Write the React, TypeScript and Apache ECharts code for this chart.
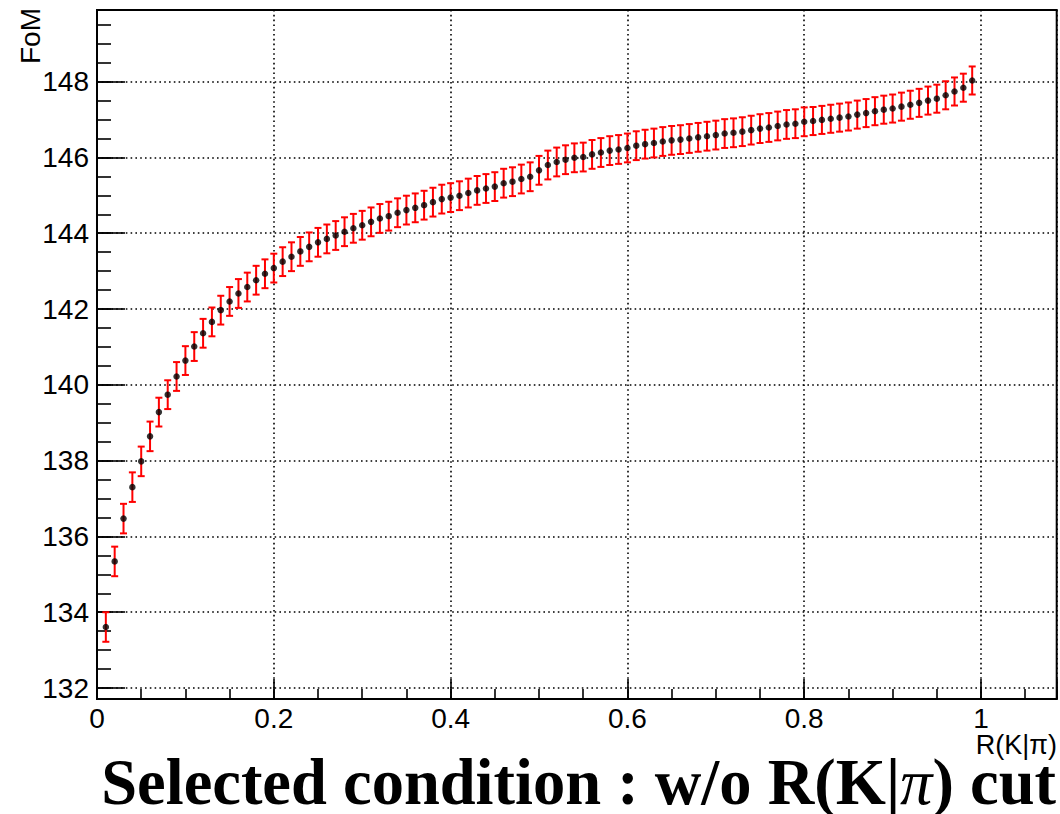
import React, { useEffect, useRef } from "react";
import * as echarts from "echarts";

// R(K|pi) cut values (bin centres)
const rCut: number[] = [
  0.01, 0.02, 0.03, 0.04, 0.05, 0.06, 0.07, 0.08, 0.09, 0.1,
  0.11, 0.12, 0.13, 0.14, 0.15, 0.16, 0.17, 0.18, 0.19, 0.2,
  0.21, 0.22, 0.23, 0.24, 0.25, 0.26, 0.27, 0.28, 0.29, 0.3,
  0.31, 0.32, 0.33, 0.34, 0.35, 0.36, 0.37, 0.38, 0.39, 0.4,
  0.41, 0.42, 0.43, 0.44, 0.45, 0.46, 0.47, 0.48, 0.49, 0.5,
  0.51, 0.52, 0.53, 0.54, 0.55, 0.56, 0.57, 0.58, 0.59, 0.6,
  0.61, 0.62, 0.63, 0.64, 0.65, 0.66, 0.67, 0.68, 0.69, 0.7,
  0.71, 0.72, 0.73, 0.74, 0.75, 0.76, 0.77, 0.78, 0.79, 0.8,
  0.81, 0.82, 0.83, 0.84, 0.85, 0.86, 0.87, 0.88, 0.89, 0.9,
  0.91, 0.92, 0.93, 0.94, 0.95, 0.96, 0.97, 0.98, 0.99,
];

// Figure of merit
const fom: number[] = [
  133.61, 135.34, 136.47, 137.3, 137.98, 138.64, 139.28, 139.74, 140.22, 140.64,
  141.01, 141.36, 141.66, 141.97, 142.2, 142.41, 142.58, 142.76, 142.93, 143.08,
  143.25, 143.38, 143.52, 143.64, 143.76, 143.85, 143.94, 144.04, 144.13, 144.21,
  144.3, 144.39, 144.45, 144.54, 144.61, 144.67, 144.74, 144.82, 144.9, 144.94,
  144.99, 145.06, 145.13, 145.18, 145.23, 145.32, 145.36, 145.43, 145.49, 145.66,
  145.8, 145.88, 145.94, 145.99, 146.01, 146.08, 146.13, 146.18, 146.21, 146.25,
  146.31, 146.35, 146.38, 146.42, 146.45, 146.47, 146.5, 146.53, 146.56, 146.59,
  146.63, 146.65, 146.68, 146.72, 146.76, 146.79, 146.83, 146.87, 146.89, 146.94,
  146.96, 146.99, 147.02, 147.05, 147.08, 147.13, 147.17, 147.22, 147.26, 147.29,
  147.34, 147.39, 147.44, 147.5, 147.55, 147.64, 147.74, 147.84, 148.03,
];

// Error (half length of error bar)
const fomErr: number[] = [
  0.39, 0.39, 0.39, 0.39, 0.39, 0.39, 0.38, 0.38, 0.38, 0.38,
  0.38, 0.38, 0.38, 0.38, 0.38, 0.38, 0.38, 0.38, 0.38, 0.38,
  0.38, 0.38, 0.38, 0.38, 0.38, 0.38, 0.38, 0.38, 0.38, 0.38,
  0.38, 0.38, 0.38, 0.38, 0.38, 0.38, 0.38, 0.38, 0.38, 0.38,
  0.38, 0.38, 0.38, 0.38, 0.38, 0.38, 0.38, 0.38, 0.38, 0.38,
  0.38, 0.38, 0.38, 0.38, 0.38, 0.38, 0.38, 0.38, 0.38, 0.38,
  0.38, 0.38, 0.38, 0.38, 0.38, 0.38, 0.38, 0.38, 0.38, 0.38,
  0.38, 0.38, 0.38, 0.38, 0.38, 0.38, 0.38, 0.38, 0.38, 0.38,
  0.37, 0.37, 0.37, 0.37, 0.37, 0.37, 0.37, 0.37, 0.37, 0.37,
  0.37, 0.37, 0.37, 0.37, 0.37, 0.37, 0.37, 0.37, 0.37,
];

const xMin = 0;
const xMax = 1.0856;
const yMin = 131.71;
const yMax = 149.89;

const xTitle = "R(K|π)";
const yTitle = "FoM";

const FONT = '"Liberation Sans", Arial, Helvetica, sans-serif';
const SERIF = '"Liberation Serif", "Times New Roman", serif';

export default function App() {
  const ref = useRef<HTMLDivElement>(null);

  useEffect(() => {
    if (!ref.current) return;
    const chart = echarts.init(ref.current, null, { renderer: "svg" });

    const pts = rCut.map((x, i) => [x, fom[i]]);
    const errData = rCut.map((x, i) => [x, fom[i], fomErr[i]]);

    const near = (v: number, step: number) =>
      Math.abs(v / step - Math.round(v / step)) < 1e-6;

    const dotted = { color: "#000", width: 1.6, type: [1.6, 3.2] as any };

    const option: any = {
      animation: false,
      backgroundColor: "#fff",
      grid: {
        left: 97,
        right: 3.3,
        top: 10,
        bottom: 115,
        show: true,
        borderColor: "#000",
        borderWidth: 2,
        backgroundColor: "transparent",
      },
      xAxis: [
        {
          type: "value",
          min: xMin,
          max: xMax,
          splitNumber: 5,
          position: "bottom",
          axisLine: { show: true, onZero: false, lineStyle: { color: "#000", width: 2 } },
          axisTick: { show: true, inside: true, length: 20, lineStyle: { color: "#000", width: 1.6 } },
          axisLabel: {
            show: true,
            color: "#000",
            fontFamily: FONT,
            fontSize: 28,
            margin: 6,
            lineHeight: 26,
            formatter: (v: number) => (v <= 1.0001 && near(v, 0.2) ? String(Math.round(v * 10) / 10) : ""),
          },
          splitLine: { show: true, lineStyle: dotted },
        },
        {
          type: "value",
          min: xMin,
          max: xMax,
          splitNumber: 20,
          position: "bottom",
          axisLine: { show: false, onZero: false },
          axisTick: { show: true, inside: true, length: 10, lineStyle: { color: "#000", width: 1.6 } },
          axisLabel: { show: false },
          splitLine: { show: false },
        },
      ],
      yAxis: [
        {
          type: "value",
          min: yMin,
          max: yMax,
          splitNumber: 9,
          position: "left",
          axisLine: { show: true, onZero: false, lineStyle: { color: "#000", width: 2 } },
          axisTick: { show: true, inside: true, length: 28, lineStyle: { color: "#000", width: 1.6 } },
          axisLabel: {
            show: true,
            color: "#000",
            fontFamily: FONT,
            fontSize: 28,
            margin: 8,
            formatter: (v: number) =>
              near(v, 2) && v > yMin && v < yMax ? String(Math.round(v)) : "",
          },
          splitLine: { show: true, lineStyle: dotted },
        },
        {
          type: "value",
          min: yMin,
          max: yMax,
          splitNumber: 36,
          position: "left",
          axisLine: { show: false, onZero: false },
          axisTick: { show: true, inside: true, length: 14, lineStyle: { color: "#000", width: 1.6 } },
          axisLabel: { show: false },
          splitLine: { show: false },
        },
      ],
      series: [
        {
          type: "custom",
          name: "err",
          xAxisIndex: 0,
          yAxisIndex: 0,
          data: errData,
          z: 2,
          renderItem: (params: any, api: any) => {
            const x = api.value(0);
            const y = api.value(1);
            const e = api.value(2);
            const top = api.coord([x, y + e]);
            const bot = api.coord([x, y - e]);
            const cw = 3.5;
            const st = { stroke: "#ff0000", lineWidth: 2 };
            return {
              type: "group",
              children: [
                { type: "line", shape: { x1: top[0], y1: top[1], x2: bot[0], y2: bot[1] }, style: st },
                { type: "line", shape: { x1: top[0] - cw, y1: top[1], x2: top[0] + cw, y2: top[1] }, style: st },
                { type: "line", shape: { x1: bot[0] - cw, y1: bot[1], x2: bot[0] + cw, y2: bot[1] }, style: st },
              ],
            };
          },
        },
        {
          type: "scatter",
          name: "FoM",
          xAxisIndex: 0,
          yAxisIndex: 0,
          data: pts,
          symbol: "circle",
          symbolSize: 6.5,
          itemStyle: { color: "#000" },
          z: 3,
        },
      ],
      graphic: [
        {
          type: "text",
          x: 30,
          y: 8,
          rotation: Math.PI / 2,
          style: {
            text: yTitle,
            fill: "#000",
            font: `28px ${FONT}`,
            textAlign: "right",
            textVerticalAlign: "middle",
          },
        },
        {
          type: "text",
          x: 1057,
          y: 745,
          style: {
            text: xTitle,
            fill: "#000",
            font: `27px ${FONT}`,
            lineHeight: 22,
            textAlign: "right",
            textVerticalAlign: "middle",
          },
        },
        {
          type: "text",
          x: 1056,
          y: 782,
          style: {
            text: "{a|Selected condition : w/o R(K|}{b|π}{a|) cut}",
            fill: "#000",
            textAlign: "right",
            textVerticalAlign: "middle",
            rich: {
              a: { fontFamily: SERIF, fontWeight: "bold", fontSize: 64.5, lineHeight: 46, fill: "#000", color: "#000" },
              b: { fontFamily: SERIF, fontStyle: "italic", fontSize: 64.5, lineHeight: 46, fill: "#000", color: "#000" },
            },
          },
        },
      ],
    };

    chart.setOption(option);
    return () => chart.dispose();
  }, []);

  return (
    <div
      ref={ref}
      style={{ position: "fixed", left: 0, top: 0, width: 1060, height: 814, background: "#fff" }}
    />
  );
}
